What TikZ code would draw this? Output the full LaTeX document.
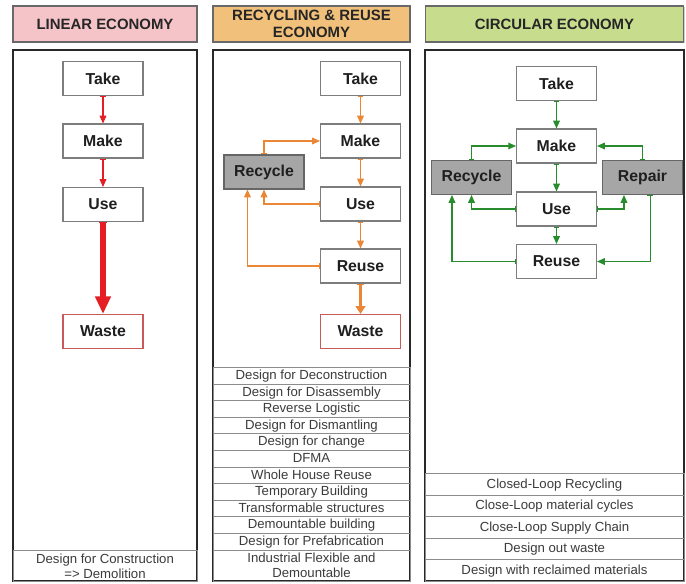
\documentclass[tikz,border=0pt]{standalone}
\usepackage{fontspec}
\setmainfont{Liberation Sans}
\usepackage{tikz}
\usetikzlibrary{arrows.meta,shadows}
\definecolor{hdrpink}{RGB}{245,196,200}
\definecolor{hdrorange}{RGB}{241,192,122}
\definecolor{hdrgreen}{RGB}{200,220,142}
\definecolor{hdrline}{RGB}{105,105,105}
\definecolor{framedark}{RGB}{40,40,40}
\definecolor{nodeline}{RGB}{125,125,125}
\definecolor{loopgrey}{RGB}{166,166,166}
\definecolor{wastered}{RGB}{200,90,90}
\definecolor{flowred}{RGB}{228,30,36}
\definecolor{floworange}{RGB}{234,134,52}
\definecolor{flowgreen}{RGB}{38,140,44}
\definecolor{listtext}{RGB}{60,60,60}
\definecolor{rowline}{RGB}{140,140,140}
\tikzset{
  hdr/.style={
    draw=hdrline,
    line width=0.7pt,
    minimum height=0.72cm,
    align=center,
    inner sep=1pt,
    text=black!85,
    font=\bfseries\fontsize{8.5}{9.6}\selectfont,
    drop shadow={shadow xshift=0.8pt,shadow yshift=-0.8pt,opacity=0.35}
  },
  frame/.style={
    draw=framedark,
    line width=0.9pt,
    fill=white,
    drop shadow={shadow xshift=0.8pt,shadow yshift=-0.8pt,opacity=0.35}
  },
  stage/.style={
    draw=nodeline,
    fill=white,
    line width=0.6pt,
    minimum width=1.6cm,
    minimum height=0.68cm,
    inner sep=1pt,
    text=black!88,
    font=\bfseries\fontsize{9}{10}\selectfont
  },
  loopbox/.style={stage, fill=loopgrey, draw=black!60},
  wastebox/.style={stage, draw=wastered},
  listrow/.style={
    draw=rowline,
    line width=0.5pt,
    inner sep=0pt,
    anchor=north,
    align=center,
    text=listtext,
    font=\fontsize{7.5}{8.6}\selectfont
  },
  onerow/.style={listrow, text height=6pt, text depth=1.7pt},
  thinflow/.style={{Bar[width=3.2pt]}-{Triangle[width=3.8pt,length=4.4pt]}, line width=0.6pt},
  redflow/.style={thinflow, draw=flowred},
  orflow/.style={thinflow, draw=floworange},
  grflow/.style={thinflow, draw=flowgreen},
  redbig/.style={{Bar[width=4pt,line width=0.6pt]}-{Triangle[width=8.5pt,length=10pt]}, line width=3.4pt, draw=flowred},
  orbig/.style={{Bar[width=4pt,line width=0.6pt]}-{Triangle[width=5.5pt,length=4.5pt]}, line width=1.6pt, draw=floworange}
}
\begin{document}
\begin{tikzpicture}
\fill[white] (0,0) rectangle (13.72,-11.66);
\useasboundingbox (0,0) rectangle (13.72,-11.66);

% headers
\node[hdr,fill=hdrpink,minimum width=3.68cm] (hLin) at (2.10,-0.48) {LINEAR ECONOMY};
\node[hdr,fill=hdrorange,minimum width=3.94cm] (hRec) at (6.23,-0.48) {RECYCLING \& REUSE\\ECONOMY};
\node[hdr,fill=hdrgreen,minimum width=5.16cm] (hCirc) at (11.09,-0.48) {CIRCULAR ECONOMY};

% column frames
\draw[frame] (0.26,-1.0) rectangle (3.94,-11.62);
\draw[frame] (4.26,-1.0) rectangle (8.20,-11.62);
\draw[frame] (8.50,-1.0) rectangle (13.68,-11.62);

% linear economy
\node[stage] (lTake) at (2.06,-1.57) {Take};
\node[stage] (lMake) at (2.06,-2.82) {Make};
\node[stage] (lUse) at (2.06,-4.09) {Use};
\node[wastebox] (lWaste) at (2.06,-6.63) {Waste};
\draw[redflow] (lTake) -- (lMake);
\draw[redflow] (lMake) -- (lUse);
\draw[redbig] (lUse) -- (lWaste);
\node[listrow,minimum width=3.68cm,minimum height=0.62cm] (lRow) at (2.10,-11.0) {Design for Construction\\=> Demolition};

% recycling & reuse economy
\node[stage] (rTake) at (7.21,-1.57) {Take};
\node[stage] (rMake) at (7.21,-2.82) {Make};
\node[stage] (rUse) at (7.21,-4.08) {Use};
\node[stage] (rReuse) at (7.21,-5.32) {Reuse};
\node[wastebox] (rWaste) at (7.21,-6.63) {Waste};
\node[loopbox] (rRecycle) at (5.28,-3.44) {Recycle};
\draw[orflow] (rTake) -- (rMake);
\draw[orflow] (rMake) -- (rUse);
\draw[orflow] (rUse) -- (rReuse);
\draw[orbig] (rReuse) -- (rWaste);
\draw[orflow] (rRecycle.north) |- (rMake.west);
\draw[orflow] (rUse.west) -| (rRecycle.south);
\draw[orflow] (rReuse.west) -| ([xshift=0.48cm]rRecycle.south west);
\foreach \txt [count=\i from 0] in {Design for Deconstruction,Design for Disassembly,Reverse Logistic,Design for Dismantling,Design for change,DFMA,Whole House Reuse,Temporary Building,Transformable structures,Demountable building,Design for Prefabrication}{
  \node[onerow,minimum width=3.94cm,minimum height=0.332cm] (rRow\i) at (6.23,-7.34-0.332*\i) {\txt};
}
\node[listrow,minimum width=3.94cm,minimum height=0.63cm] (rRowLast) at (6.23,-10.99) {Industrial Flexible and\\Demountable};

% circular economy
\node[stage] (cTake) at (11.13,-1.67) {Take};
\node[stage] (cMake) at (11.13,-2.92) {Make};
\node[stage] (cUse) at (11.13,-4.18) {Use};
\node[stage] (cReuse) at (11.13,-5.23) {Reuse};
\node[loopbox] (cRecycle) at (9.43,-3.55) {Recycle};
\node[loopbox] (cRepair) at (12.85,-3.55) {Repair};
\draw[grflow] (cTake) -- (cMake);
\draw[grflow] (cMake) -- (cUse);
\draw[grflow] (cUse) -- (cReuse);
\draw[grflow] (cRecycle.north) |- (cMake.west);
\draw[grflow] (cRepair.north) |- (cMake.east);
\draw[grflow] (cUse.west) -| (cRecycle.south);
\draw[grflow] (cReuse.west) -| ([xshift=0.42cm]cRecycle.south west);
\draw[grflow] (cUse.east) -| ([xshift=0.44cm]cRepair.south west);
\draw[grflow] ([xshift=-0.66cm]cRepair.south east) |- (cReuse.east);
\foreach \txt [count=\i from 0] in {Closed-Loop Recycling,Close-Loop material cycles,Close-Loop Supply Chain,Design out waste,Design with reclaimed materials}{
  \node[onerow,minimum width=5.18cm,minimum height=0.432cm] (cRow\i) at (11.09,-9.46-0.432*\i) {\txt};
}
\end{tikzpicture}
\end{document}
